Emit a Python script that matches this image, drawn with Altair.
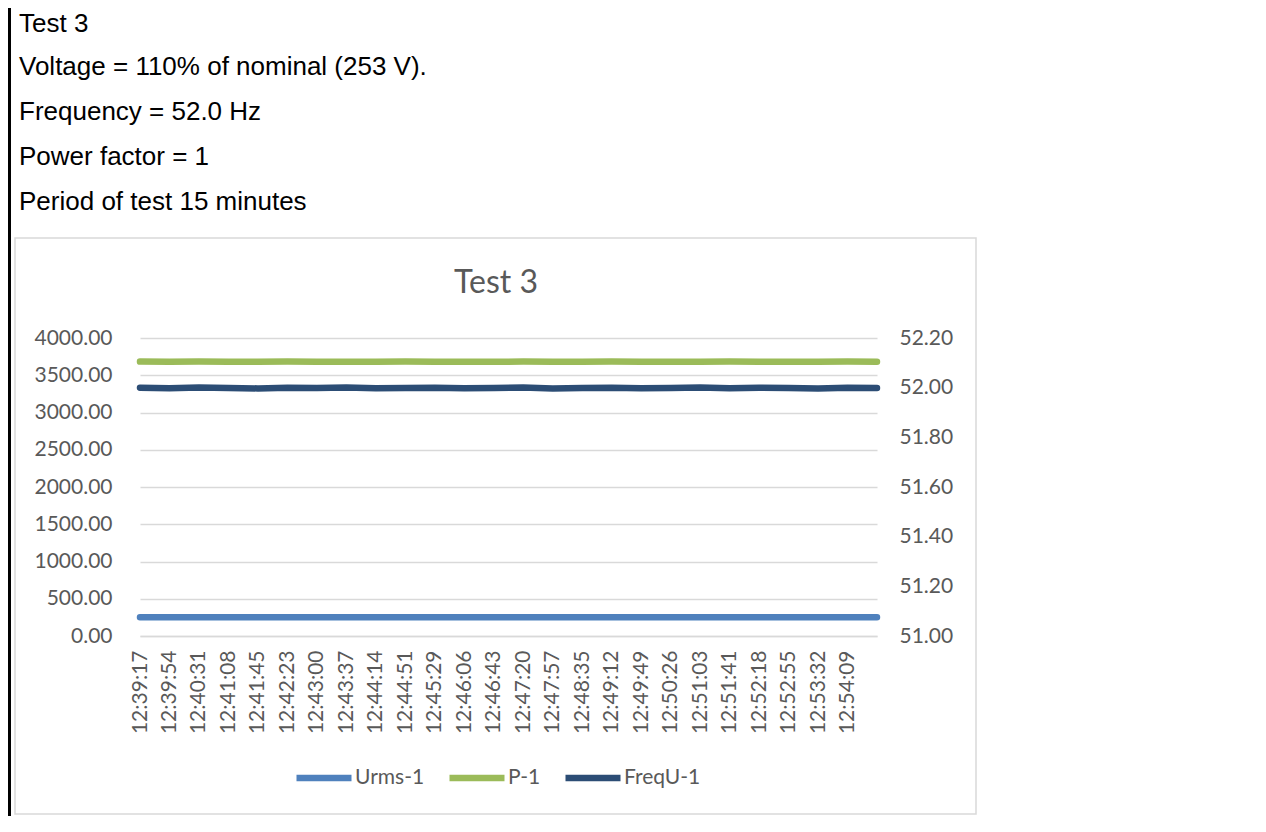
import altair as alt
import pandas as pd

# ---------------- data ----------------
HEADER_LINES = [
    "Test 3",
    "Voltage = 110% of nominal (253 V).",
    "Frequency = 52.0 Hz",
    "Power factor = 1",
    "Period of test 15 minutes",
]
CHART_TITLE = ["Test 3"]

TIMES = [
    "12:39:17", "12:39:54", "12:40:31", "12:41:08", "12:41:45", "12:42:23",
    "12:43:00", "12:43:37", "12:44:14", "12:44:51", "12:45:29", "12:46:06",
    "12:46:43", "12:47:20", "12:47:57", "12:48:35", "12:49:12", "12:49:49",
    "12:50:26", "12:51:03", "12:51:41", "12:52:18", "12:52:55", "12:53:32",
    "12:54:09", "12:54:46",
]
TICK_LABELS = [
    "12:39:17", "12:39:54", "12:40:31", "12:41:08", "12:41:45", "12:42:23",
    "12:43:00", "12:43:37", "12:44:14", "12:44:51", "12:45:29", "12:46:06",
    "12:46:43", "12:47:20", "12:47:57", "12:48:35", "12:49:12", "12:49:49",
    "12:50:26", "12:51:03", "12:51:41", "12:52:18", "12:52:55", "12:53:32",
    "12:54:09",
]
URMS = [253.2, 253.1, 253.2, 253.0, 253.1, 253.2, 253.1, 253.0, 253.1, 253.2,
        253.1, 253.1, 253.0, 253.2, 253.1, 253.1, 253.2, 253.0, 253.1, 253.1,
        253.2, 253.1, 253.0, 253.1, 253.2, 253.1]
P1 = [3683, 3681, 3684, 3680, 3682, 3683, 3681, 3680, 3682, 3684,
      3681, 3682, 3680, 3683, 3682, 3681, 3684, 3680, 3682, 3681,
      3683, 3682, 3680, 3681, 3683, 3682]
FREQ = [52.000, 51.998, 52.001, 51.999, 51.997, 52.000, 51.999, 52.001, 51.998, 51.999,
        52.000, 51.998, 51.999, 52.001, 51.997, 51.999, 52.000, 51.998, 51.999, 52.001,
        51.998, 52.000, 51.999, 51.997, 52.000, 51.999]

SERIES = ["Urms-1", "P-1", "FreqU-1"]
COLORS = ["#4f81bd", "#9bbb59", "#2c4d75"]
LEFT_TICKS = [0, 500, 1000, 1500, 2000, 2500, 3000, 3500, 4000]
RIGHT_TICKS = [51.0, 51.2, 51.4, 51.6, 51.8, 52.0, 52.2]

left_df = pd.concat([
    pd.DataFrame({"time": TIMES, "value": URMS, "series": "Urms-1"}),
    pd.DataFrame({"time": TIMES, "value": P1, "series": "P-1"}),
])
right_df = pd.DataFrame({"time": TIMES, "value": FREQ, "series": "FreqU-1"})

AX_FONT = "Lato"
AX_COLOR = "#595959"
GRID = "#d9d9d9"
FS = 21

x_enc = alt.X(
    "time:O", sort=TIMES,
    scale=alt.Scale(type="point", padding=0),
    axis=alt.Axis(values=TICK_LABELS, labelAngle=-90, title=None, ticks=False,
                  domain=True, domainColor=GRID, domainWidth=1.3, labelPadding=14,
                  labelFont=AX_FONT, labelFontSize=FS, labelColor=AX_COLOR, grid=False),
)
color_enc = alt.Color(
    "series:N",
    scale=alt.Scale(domain=SERIES, range=COLORS),
    legend=alt.Legend(
        orient="none", legendX=153, legendY=409, direction="horizontal",
        symbolType="stroke", symbolSize=3025, symbolStrokeWidth=6.5,
        labelFont=AX_FONT, labelFontSize=FS, labelColor=AX_COLOR,
        labelOffset=0, columnPadding=11, title=None,
    ),
)

left = alt.Chart(left_df).mark_line(strokeWidth=6.5, strokeCap="round").encode(
    x=x_enc,
    y=alt.Y("value:Q", scale=alt.Scale(domain=[0, 4000], nice=False, zero=False),
            axis=alt.Axis(values=LEFT_TICKS, format=".2f", title=None, orient="left",
                          grid=True, gridColor=GRID, gridWidth=1.3, domain=False,
                          ticks=False, labelPadding=28, labelFont=AX_FONT,
                          labelFontSize=FS, labelColor=AX_COLOR)),
    color=color_enc,
    detail="series:N",
)

right = alt.Chart(right_df).mark_line(strokeWidth=6.5, strokeCap="round").encode(
    x=x_enc,
    y=alt.Y("value:Q", scale=alt.Scale(domain=[51.0, 52.2], nice=False, zero=False),
            axis=alt.Axis(values=RIGHT_TICKS, format=".2f", title=None, orient="right",
                          grid=False, domain=False, ticks=False, labelPadding=22,
                          labelFont=AX_FONT, labelFontSize=FS, labelColor=AX_COLOR)),
    color=color_enc,
)

one = pd.DataFrame({"k": [0]})
box = alt.Chart(one).mark_rect(filled=False, color=GRID, strokeWidth=1.5).encode(
    x=alt.value(-125), x2=alt.value(836), y=alt.value(-100), y2=alt.value(476)
)
bar = alt.Chart(one).mark_rect(color="black").encode(
    x=alt.value(-132), x2=alt.value(-129), y=alt.value(-330), y2=alt.value(478)
)
title = alt.Chart(pd.DataFrame({"t": CHART_TITLE})).mark_text(
    font=AX_FONT, fontSize=32, color=AX_COLOR, align="center", baseline="alphabetic"
).encode(x=alt.value(356), y=alt.value(-45), text="t:N")

headers = []
for i, line in enumerate(HEADER_LINES):
    yy = -306 if i == 0 else -308 + 45 * i
    headers.append(
        alt.Chart(pd.DataFrame({"t": [line]})).mark_text(
            font="Liberation Sans", fontSize=26, color="black", align="left",
            baseline="alphabetic"
        ).encode(x=alt.value(-121), y=alt.value(yy), text="t:N")
    )

chart = alt.layer(box, bar, title, *headers, left, right).resolve_scale(
    y="independent"
).properties(
    width=737, height=298,
    padding={"left": 132, "top": 330, "right": 370, "bottom": 180},
    autosize=alt.AutoSizeParams(type="none"),
).configure(background="white").configure_view(stroke=None)

chart.save("out.html", embed_options={"renderer": "svg", "actions": False})
